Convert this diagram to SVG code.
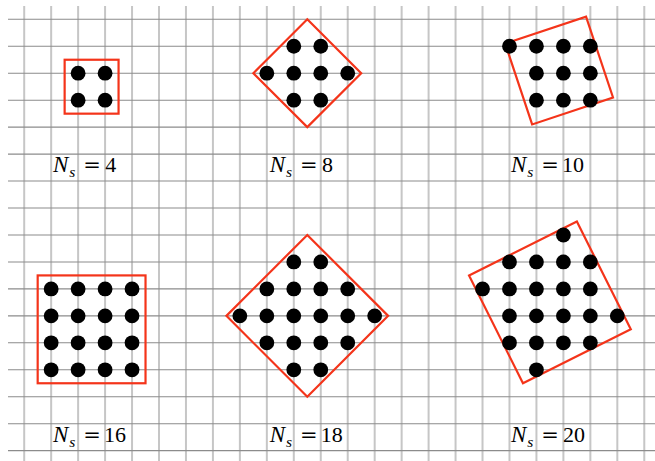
<svg xmlns="http://www.w3.org/2000/svg" width="655" height="461" viewBox="0 0 655 461">
<style>
.bg{fill:#ffffff}
.vl{stroke:#c6c6c6;stroke-width:2;fill:none}
.hl{stroke:#8c8c8c;stroke-width:1.1;fill:none}
.box{fill:none;stroke:#f4341a;stroke-width:2.2;stroke-linejoin:miter}
.dot{fill:#000000}
.lbl{font-family:"Liberation Serif","DejaVu Serif",serif;font-size:22px;fill:#000000}
.mi{font-style:italic;font-size:23px}
.sub{font-style:italic;font-size:15.5px}
.eq{font-family:"DejaVu Serif","Liberation Serif",serif;font-size:21px}
</style>
<defs>
<circle id="d" r="7.4" class="dot"/>
</defs>
<rect class="bg" x="0" y="0" width="655" height="461"/>
<g id="grid">
<path class="vl" d="M24.2 6V461M51.16 6V461M78.12 6V461M105.08 6V461M132.04 6V461M159 6V461M185.96 6V461M212.92 6V461M239.88 6V461M266.84 6V461M293.8 6V461M320.76 6V461M347.72 6V461M374.68 6V461M401.64 6V461M428.6 6V461M455.56 6V461M482.52 6V461M509.48 6V461M536.44 6V461M563.4 6V461M590.36 6V461M617.32 6V461M644.28 6V461"/>
<path class="hl" d="M8 19.3H655M8 46.26H655M8 73.22H655M8 100.18H655M8 127.14H655M8 154.1H655M8 181.06H655M8 208.02H655M8 234.98H655M8 261.94H655M8 288.9H655M8 315.86H655M8 342.82H655M8 369.78H655M8 396.74H655M8 423.7H655M8 450.66H655"/>
</g>
<g id="panel-ns4">
<rect class="box" x="64.64" y="59.74" width="53.92" height="53.92"/>
<use href="#d" x="78.12" y="73.22"/><use href="#d" x="105.08" y="73.22"/>
<use href="#d" x="78.12" y="100.18"/><use href="#d" x="105.08" y="100.18"/>
<text class="lbl" x="53" y="172.3"><tspan class="mi">N</tspan><tspan class="sub" x="69.3" y="177.3">s</tspan><tspan class="eq" x="83.3" y="172.3">=</tspan><tspan x="105.3">4</tspan></text>
</g>
<g id="panel-ns8">
<polygon class="box" points="307.28,19.3 361.2,73.22 307.28,127.14 253.36,73.22"/>
<use href="#d" x="293.8" y="46.26"/><use href="#d" x="320.76" y="46.26"/>
<use href="#d" x="266.84" y="73.22"/><use href="#d" x="293.8" y="73.22"/><use href="#d" x="320.76" y="73.22"/><use href="#d" x="347.72" y="73.22"/>
<use href="#d" x="293.8" y="100.18"/><use href="#d" x="320.76" y="100.18"/>
<text class="lbl" x="269.7" y="172.3"><tspan class="mi">N</tspan><tspan class="sub" x="286" y="177.3">s</tspan><tspan class="eq" x="300" y="172.3">=</tspan><tspan x="322">8</tspan></text>
</g>
<g id="panel-ns10">
<polygon class="box" points="505.17,43.56 586.05,16.6 613.01,97.48 532.13,124.44"/>
<use href="#d" x="509.48" y="46.26"/><use href="#d" x="536.44" y="46.26"/><use href="#d" x="563.4" y="46.26"/><use href="#d" x="590.36" y="46.26"/>
<use href="#d" x="536.44" y="73.22"/><use href="#d" x="563.4" y="73.22"/><use href="#d" x="590.36" y="73.22"/>
<use href="#d" x="536.44" y="100.18"/><use href="#d" x="563.4" y="100.18"/><use href="#d" x="590.36" y="100.18"/>
<text class="lbl" x="511" y="172.3"><tspan class="mi">N</tspan><tspan class="sub" x="527.3" y="177.3">s</tspan><tspan class="eq" x="541.3" y="172.3">=</tspan><tspan x="562">10</tspan></text>
</g>
<g id="panel-ns16">
<rect class="box" x="37.68" y="275.42" width="107.84" height="107.84"/>
<use href="#d" x="51.16" y="288.9"/><use href="#d" x="78.12" y="288.9"/><use href="#d" x="105.08" y="288.9"/><use href="#d" x="132.04" y="288.9"/>
<use href="#d" x="51.16" y="315.86"/><use href="#d" x="78.12" y="315.86"/><use href="#d" x="105.08" y="315.86"/><use href="#d" x="132.04" y="315.86"/>
<use href="#d" x="51.16" y="342.82"/><use href="#d" x="78.12" y="342.82"/><use href="#d" x="105.08" y="342.82"/><use href="#d" x="132.04" y="342.82"/>
<use href="#d" x="51.16" y="369.78"/><use href="#d" x="78.12" y="369.78"/><use href="#d" x="105.08" y="369.78"/><use href="#d" x="132.04" y="369.78"/>
<text class="lbl" x="53" y="442"><tspan class="mi">N</tspan><tspan class="sub" x="69.3" y="447">s</tspan><tspan class="eq" x="83.3" y="442">=</tspan><tspan x="104">16</tspan></text>
</g>
<g id="panel-ns18">
<polygon class="box" points="307.28,234.98 388.16,315.86 307.28,396.74 226.4,315.86"/>
<use href="#d" x="293.8" y="261.94"/><use href="#d" x="320.76" y="261.94"/>
<use href="#d" x="266.84" y="288.9"/><use href="#d" x="293.8" y="288.9"/><use href="#d" x="320.76" y="288.9"/><use href="#d" x="347.72" y="288.9"/>
<use href="#d" x="239.88" y="315.86"/><use href="#d" x="266.84" y="315.86"/><use href="#d" x="293.8" y="315.86"/><use href="#d" x="320.76" y="315.86"/><use href="#d" x="347.72" y="315.86"/><use href="#d" x="374.68" y="315.86"/>
<use href="#d" x="266.84" y="342.82"/><use href="#d" x="293.8" y="342.82"/><use href="#d" x="320.76" y="342.82"/><use href="#d" x="347.72" y="342.82"/>
<use href="#d" x="293.8" y="369.78"/><use href="#d" x="320.76" y="369.78"/>
<text class="lbl" x="269.7" y="442"><tspan class="mi">N</tspan><tspan class="sub" x="286" y="447">s</tspan><tspan class="eq" x="300" y="442">=</tspan><tspan x="320.7">18</tspan></text>
</g>
<g id="panel-ns20">
<polygon class="box" points="576.88,221.5 630.8,329.34 522.96,383.26 469.04,275.42"/>
<use href="#d" x="563.4" y="234.98"/>
<use href="#d" x="509.48" y="261.94"/><use href="#d" x="536.44" y="261.94"/><use href="#d" x="563.4" y="261.94"/><use href="#d" x="590.36" y="261.94"/>
<use href="#d" x="482.52" y="288.9"/><use href="#d" x="509.48" y="288.9"/><use href="#d" x="536.44" y="288.9"/><use href="#d" x="563.4" y="288.9"/><use href="#d" x="590.36" y="288.9"/>
<use href="#d" x="509.48" y="315.86"/><use href="#d" x="536.44" y="315.86"/><use href="#d" x="563.4" y="315.86"/><use href="#d" x="590.36" y="315.86"/><use href="#d" x="617.32" y="315.86"/>
<use href="#d" x="509.48" y="342.82"/><use href="#d" x="536.44" y="342.82"/><use href="#d" x="563.4" y="342.82"/><use href="#d" x="590.36" y="342.82"/>
<use href="#d" x="536.44" y="369.78"/>
<text class="lbl" x="511" y="442"><tspan class="mi">N</tspan><tspan class="sub" x="527.3" y="447">s</tspan><tspan class="eq" x="541.3" y="442">=</tspan><tspan x="563">20</tspan></text>
</g>
</svg>
